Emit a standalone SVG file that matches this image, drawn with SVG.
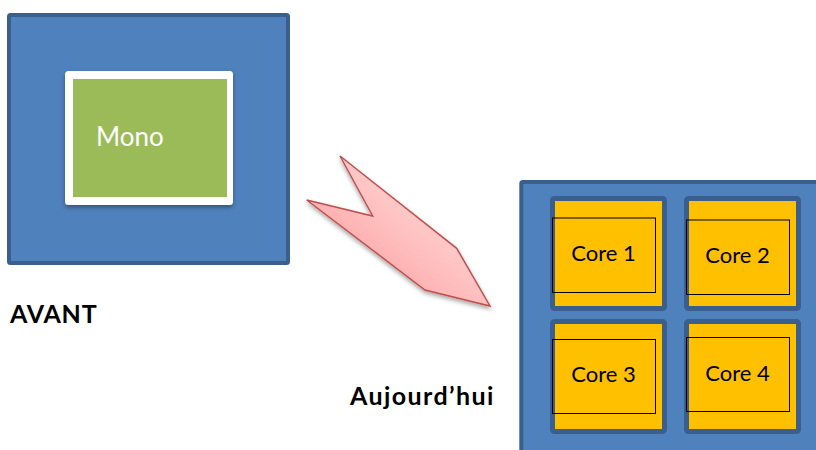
<svg xmlns="http://www.w3.org/2000/svg" width="816" height="450" viewBox="0 0 816 450">
  <defs>
    <linearGradient id="arrowFill" x1="0" y1="1" x2="1" y2="0">
      <stop offset="0" stop-color="#FF8F8F"/>
      <stop offset="0.55" stop-color="#FFC4C4"/>
      <stop offset="1" stop-color="#FFE6E6"/>
    </linearGradient>
    <filter id="shadow" x="-20%" y="-20%" width="140%" height="150%">
      <feDropShadow dx="0" dy="2.5" stdDeviation="2" flood-color="#000" flood-opacity="0.35"/>
    </filter>
  </defs>
  <style>
    .chip { fill: #4F81BD; stroke: #3A5F8E; stroke-width: 4; }
    .cell { fill: #FFC000; stroke: #3A5F8E; stroke-width: 5; }
    .frame { fill: none; stroke: #000; stroke-width: 1; }
    .core { font-family: Lato, "Liberation Sans", sans-serif; font-size: 22px; fill: #000; text-anchor: middle; }
    .label { font-family: Lato, "Liberation Sans", sans-serif; font-size: 25px; font-weight: bold; fill: #000; }
  </style>

  <!-- single-core processor -->
  <g id="avant-chip">
    <rect class="chip" x="9" y="15" width="279" height="248" rx="1.5"/>
    <g filter="url(#shadow)">
      <rect x="65" y="71" width="168" height="134" rx="3.5" fill="#FFFFFF"/>
    </g>
    <rect x="73" y="79" width="154" height="118" fill="#9BBB59"/>
    <text x="96" y="146" font-family="Lato, 'Liberation Sans', sans-serif" font-size="26" fill="#FFFFFF">Mono</text>
  </g>

  <!-- transition arrow -->
  <g id="connectors">
    <polygon points="340,156 372.7,216 306.7,200 425,290 490,306 456.7,248.3" fill="url(#arrowFill)" stroke="#C0504D" stroke-width="1.5" stroke-linejoin="miter" filter="url(#shadow)"/>
  </g>

  <!-- multi-core processor -->
  <g id="aujourdhui-chip">
    <rect class="chip" x="521.3" y="182" width="320" height="290" rx="1.5"/>
  </g>

  <g id="core1">
    <rect class="cell" x="552.5" y="198.5" width="112" height="110" rx="2"/>
    <rect class="frame" x="552.5" y="218" width="103" height="74.5"/>
    <text class="core" x="603.5" y="260.7">Core 1</text>
  </g>
  <g id="core2">
    <rect class="cell" x="686.5" y="198.5" width="112" height="110" rx="2"/>
    <rect class="frame" x="686.5" y="220" width="103" height="74.5"/>
    <text class="core" x="737.5" y="263.3">Core 2</text>
  </g>
  <g id="core3">
    <rect class="cell" x="552.5" y="321.5" width="112" height="110" rx="2"/>
    <rect class="frame" x="552.5" y="339.5" width="103" height="74"/>
    <text class="core" x="603.5" y="382.3">Core 3</text>
  </g>
  <g id="core4">
    <rect class="cell" x="686.5" y="321.5" width="112" height="110" rx="2"/>
    <rect class="frame" x="686.5" y="337.5" width="103" height="74"/>
    <text class="core" x="737.5" y="380.7">Core 4</text>
  </g>

  <g id="labels">
    <text class="label" x="10" y="322.7" letter-spacing="0.8">AVANT</text>
    <text class="label" x="350" y="405" letter-spacing="1.4">Aujourd’hui</text>
  </g>
</svg>
